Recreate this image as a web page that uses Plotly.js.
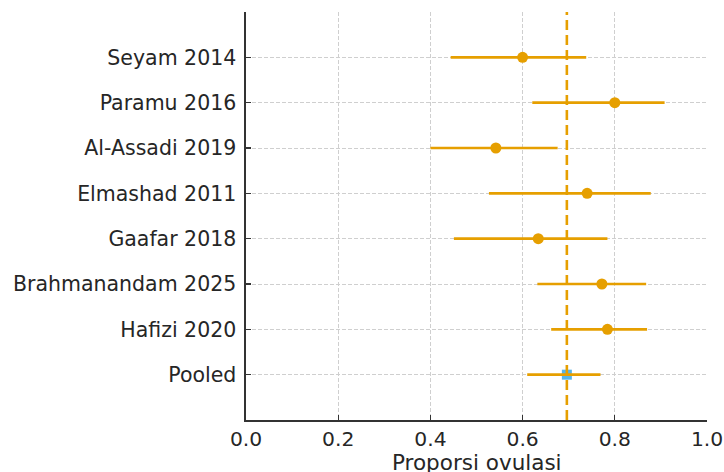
<!DOCTYPE html>
<html>
<head>
<meta charset="utf-8">
<script src="https://cdn.plot.ly/plotly-3.0.1.min.js"></script>
<style>html,body{margin:0;padding:0;background:#fff;}#chart{width:724px;height:472px;}</style>
</head>
<body>
<div id="chart"></div>
<script>
// Studies, top to bottom
const studies = ["Seyam 2014", "Paramu 2016", "Al-Assadi 2019", "Elmashad 2011", "Gaafar 2018", "Brahmanandam 2025", "Hafizi 2020"];
const proportion = [0.600, 0.800, 0.542, 0.740, 0.634, 0.772, 0.784];
const lowerCI = [0.444, 0.621, 0.400, 0.527, 0.451, 0.632, 0.662];
const upperCI = [0.738, 0.908, 0.676, 0.878, 0.784, 0.868, 0.870];

const pooledLabel = "Pooled";
const pooledValue = 0.696;
const pooledLower = 0.610;
const pooledUpper = 0.769;

const xTicks = [0.0, 0.2, 0.4, 0.6, 0.8, 1.0];
const xTickText = ["0.0", "0.2", "0.4", "0.6", "0.8", "1.0"];
const xTitle = "Proporsi ovulasi";

const orange = "#E69F00";
const blue = "#56B4E9";
const font = "DejaVu Sans, sans-serif";
const textColor = "#262626";

const categoryOrder = [pooledLabel].concat(studies.slice().reverse());

const studyTrace = {
  type: "scatter",
  mode: "markers",
  x: proportion,
  y: studies,
  marker: {color: orange, size: 11, symbol: "circle"},
  error_x: {
    type: "data",
    symmetric: false,
    array: upperCI.map((u, i) => u - proportion[i]),
    arrayminus: lowerCI.map((l, i) => proportion[i] - l),
    color: orange,
    thickness: 2.7,
    width: 0
  },
  hoverinfo: "skip",
  showlegend: false
};

const pooledMarker = {
  type: "scatter",
  mode: "markers",
  x: [pooledValue],
  y: [pooledLabel],
  marker: {color: blue, size: 10, symbol: "square"},
  showlegend: false,
  hoverinfo: "skip"
};

const pooledBar = {
  type: "scatter",
  mode: "markers",
  x: [pooledValue],
  y: [pooledLabel],
  marker: {color: "rgba(0,0,0,0)", size: 1},
  error_x: {
    type: "data",
    symmetric: false,
    array: [pooledUpper - pooledValue],
    arrayminus: [pooledValue - pooledLower],
    color: orange,
    thickness: 2.7,
    width: 0
  },
  showlegend: false,
  hoverinfo: "skip"
};

const layout = {
  width: 724,
  height: 472,
  margin: {l: 246, r: 17, t: 12, b: 52},
  paper_bgcolor: "#ffffff",
  plot_bgcolor: "#ffffff",
  font: {family: font, size: 20, color: textColor},
  showlegend: false,
  xaxis: {
    range: [0, 1.0],
    tickvals: xTicks,
    ticktext: xTickText,
    ticks: "inside",
    ticklen: 5,
    tickwidth: 1.3,
    tickcolor: "#333",
    showline: true,
    linecolor: "#333",
    linewidth: 1.6,
    mirror: false,
    showgrid: true,
    gridcolor: "#cfcfcf",
    gridwidth: 1,
    griddash: "4px,2px",
    zeroline: false,
    tickfont: {family: font, size: 20.3, color: textColor},
    automargin: false,
    fixedrange: true
  },
  yaxis: {
    type: "category",
    categoryorder: "array",
    categoryarray: categoryOrder,
    range: [-1, 8],
    ticks: "inside",
    ticklen: 5,
    tickwidth: 1.3,
    tickcolor: "#333",
    showline: true,
    linecolor: "#333",
    linewidth: 1.6,
    showgrid: true,
    gridcolor: "#cfcfcf",
    gridwidth: 1,
    griddash: "4px,2px",
    zeroline: false,
    tickfont: {family: font, size: 20.5, color: textColor},
    ticklabelstandoff: 4,
    automargin: false,
    fixedrange: true
  },
  annotations: [{
    text: xTitle,
    xref: "paper",
    yref: "paper",
    x: 0.5,
    y: 0,
    xanchor: "center",
    yanchor: "bottom",
    yshift: -56,
    showarrow: false,
    borderpad: 0,
    font: {family: font, size: 21.5, color: textColor}
  }],
  shapes: [{
    type: "line",
    xref: "x",
    yref: "paper",
    x0: pooledValue,
    x1: pooledValue,
    y0: 0,
    y1: 1,
    line: {color: orange, width: 2.6, dash: "10px,5px"},
    layer: "above"
  }]
};

Plotly.newPlot("chart", [pooledMarker, studyTrace, pooledBar], layout, {displayModeBar: false, staticPlot: true});
</script>
</body>
</html>
